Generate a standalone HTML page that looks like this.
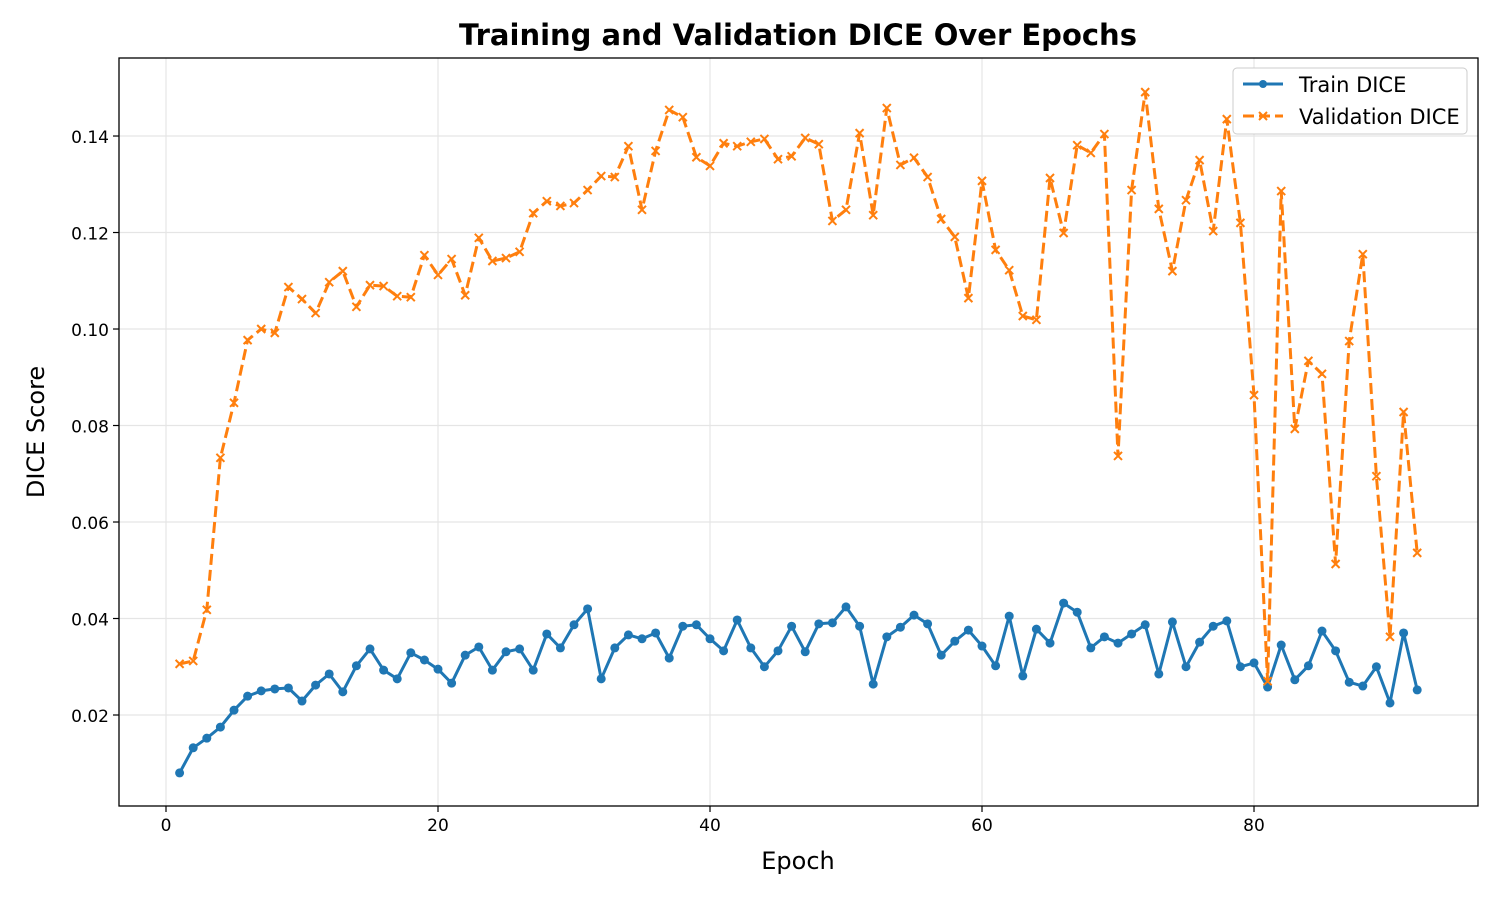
<!DOCTYPE html>
<html><head><meta charset="utf-8"><style>
body{margin:0;background:#fff;}
svg{display:block;font-family:"DejaVu Sans","Liberation Sans",sans-serif;}
</style></head><body>
<svg id="chart" width="1500" height="900" viewBox="0 0 1500 900" xmlns="http://www.w3.org/2000/svg">
<rect width="1500" height="900" fill="#fff"/>
<text x="798" y="45" text-anchor="middle" font-size="29" font-weight="bold">Training and Validation DICE Over Epochs</text>
<g id="grid"></g>
<g id="series"></g>
<rect x="119" y="58" width="1359" height="748" fill="none" stroke="#000" stroke-width="1.3"/>
<g id="axes"></g>
<text x="798" y="869" text-anchor="middle" font-size="24">Epoch</text>
<text transform="translate(44,432) rotate(-90)" text-anchor="middle" font-size="24">DICE Score</text>
<g>
<rect x="1233" y="68" width="234" height="66" rx="4" fill="#fff" stroke="#ccc"/>
<g>
<line x1="1243" y1="84" x2="1283" y2="84" stroke="#1f77b4" stroke-width="3"/>
<circle cx="1263" cy="84" r="4" fill="#1f77b4"/>
<text x="1299" y="92" font-size="21">Train DICE</text></g>
<g>
<line x1="1243" y1="116" x2="1283" y2="116" stroke="#ff7f0e" stroke-width="3" stroke-dasharray="11,5"/>
<path d="M1259,112 l8,8 M1267,112 l-8,8" stroke="#ff7f0e" stroke-width="2"/>
<text x="1299" y="124" font-size="21">Validation DICE</text></g>
</g>
</svg>
<script>
const trainDice=[0.008,0.0132,0.0152,0.0175,0.021,0.0239,0.025,0.0254,0.0256,0.0229,0.0262,0.0285,0.0248,0.0302,0.0337,0.0293,0.0275,0.0329,0.0314,0.0295,0.0266,0.0324,0.0341,0.0293,0.0331,0.0337,0.0293,0.0368,0.0339,0.0387,0.042,0.0275,0.0339,0.0366,0.0358,0.037,0.0318,0.0384,0.0387,0.0358,0.0333,0.0397,0.0339,0.03,0.0333,0.0384,0.0331,0.0389,0.0391,0.0424,0.0384,0.0264,0.0362,0.0382,0.0407,0.0389,0.0324,0.0353,0.0376,0.0343,0.0302,0.0405,0.0281,0.0378,0.0349,0.0432,0.0413,0.0339,0.0362,0.0349,0.0368,0.0387,0.0285,0.0393,0.03,0.0351,0.0384,0.0395,0.03,0.0308,0.0258,0.0345,0.0273,0.0302,0.0374,0.0333,0.0268,0.026,0.03,0.0225,0.037,0.0252];
const valDice=[0.0306,0.0312,0.0418,0.0733,0.0847,0.0977,0.1,0.0992,0.1087,0.1062,0.1033,0.1097,0.112,0.1046,0.1091,0.1089,0.1068,0.1066,0.1153,0.1112,0.1145,0.107,0.1189,0.1141,0.1147,0.116,0.124,0.1265,0.1255,0.1261,0.1288,0.1317,0.1315,0.1379,0.1247,0.1369,0.1454,0.1439,0.1356,0.1338,0.1385,0.1379,0.1388,0.1394,0.1352,0.1358,0.1396,0.1383,0.1224,0.1247,0.1406,0.1236,0.1458,0.134,0.1355,0.1315,0.1228,0.1191,0.1064,0.1307,0.1164,0.1122,0.1027,0.1019,0.1313,0.1199,0.1381,0.1365,0.1404,0.0737,0.1288,0.1491,0.1249,0.112,0.1267,0.135,0.1203,0.1435,0.122,0.0863,0.027,0.1286,0.0793,0.0934,0.0907,0.0513,0.0975,0.1155,0.0695,0.0362,0.0828,0.0536];
const xTicks=[0,20,40,60,80];
const yTicks=[0.02,0.04,0.06,0.08,0.10,0.12,0.14];
const yTickLabels=["0.02","0.04","0.06","0.08","0.10","0.12","0.14"];

const L=119,R=1478,T=58,B=806;
const X0=-3.456,X1=96.47,Y0=0.00114,Y1=0.15617;
const sx=v=>L+(v-X0)/(X1-X0)*(R-L);
const sy=v=>B-(v-Y0)/(Y1-Y0)*(B-T);
const NS="http://www.w3.org/2000/svg";
function mk(tag,attrs,parent){const e=document.createElementNS(NS,tag);for(const k in attrs)e.setAttribute(k,attrs[k]);parent.appendChild(e);return e;}
const grid=document.getElementById('grid'),axes=document.getElementById('axes'),series=document.getElementById('series');
xTicks.forEach(t=>{const x=sx(t);
 const g=mk('line',{x1:x,x2:x,y1:T,y2:B,stroke:'#e5e5e5','stroke-width':1.2},grid);
 
 
 mk('line',{x1:x,x2:x,y1:B,y2:B+6,stroke:'#000','stroke-width':1.2},axes);
 const tx=mk('text',{x:x,y:B+25,'text-anchor':'middle','font-size':17},axes);tx.textContent=t;
 
 
});
yTicks.forEach((t,i)=>{const y=sy(t);
 const g=mk('line',{x1:L,x2:R,y1:y,y2:y,stroke:'#e5e5e5','stroke-width':1.2},grid);
 
 
 mk('line',{x1:L-6,x2:L,y1:y,y2:y,stroke:'#000','stroke-width':1.2},axes);
 const tx=mk('text',{x:L-10,y:y+7,'text-anchor':'end','font-size':17},axes);tx.textContent=yTickLabels[i];
 
 
});
function pts(arr){return arr.map((v,i)=>sx(i+1).toFixed(1)+','+sy(v).toFixed(1)).join(' ');}
const tl=mk('polyline',{points:pts(trainDice),fill:'none',stroke:'#1f77b4','stroke-width':3,'stroke-linejoin':'round'},series);


trainDice.forEach((v,i)=>{const c=mk('circle',{cx:sx(i+1),cy:sy(v),r:4.5,fill:'#1f77b4'},series);
 
 });
const vl=mk('polyline',{points:pts(valDice),fill:'none',stroke:'#ff7f0e','stroke-width':3,'stroke-dasharray':'11,5','stroke-linejoin':'round'},series);


valDice.forEach((v,i)=>{const x=sx(i+1),y=sy(v);
 const p=mk('path',{d:`M${x-4},${y-4} L${x+4},${y+4} M${x+4},${y-4} L${x-4},${y+4}`,stroke:'#ff7f0e','stroke-width':2},series);
 
 });
</script>
</body></html>
